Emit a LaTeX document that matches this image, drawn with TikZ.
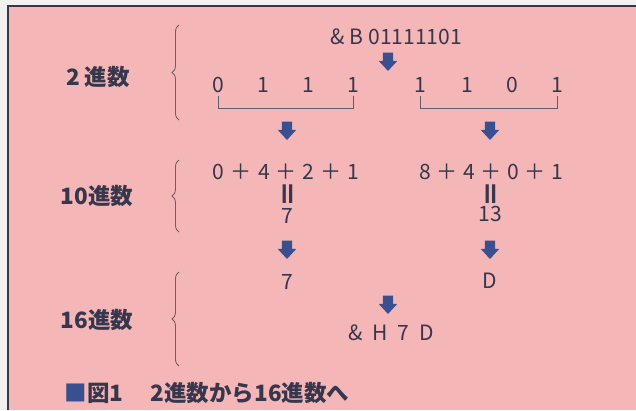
\documentclass[tikz,border=0pt]{standalone}
\usepackage{fontspec}
\setmainfont{Noto Sans CJK JP}
\usetikzlibrary{decorations.pathreplacing, calc}
\definecolor{paper}{HTML}{F3F1F0}
\definecolor{pinkbg}{HTML}{F5B6B8}
\definecolor{ink}{HTML}{36364C}
\definecolor{arrowblue}{HTML}{3A4F8F}
\definecolor{bracecol}{HTML}{6E5E60}

\tikzset{
  num/.style={font=\fontsize{15}{17}\selectfont, text=ink, inner sep=1pt},
  eqsign/.style={font=\fontsize{19}{20}\selectfont\bfseries, text=ink, inner sep=0pt, rotate=90},
  basislabel/.style={font=\fontsize{16}{19}\selectfont\bfseries, text=ink},
  basisbrace/.style={bracecol, line width=0.6pt, decorate, decoration={brace, amplitude=5pt}},
  bracket/.style={ink!80, line width=0.6pt},
  pics/blockarrow/.style={code={
    \fill[arrowblue] (-3.6pt,6.6pt) -- (3.6pt,6.6pt) -- (3.6pt,0.8pt) -- (6.6pt,0.8pt)
      -- (0,-6.4pt) -- (-6.6pt,0.8pt) -- (-3.6pt,0.8pt) -- cycle;}},
}

\begin{document}
\begin{tikzpicture}[x=0.025cm, y=-0.025cm]
  \useasboundingbox (0,0) rectangle (636,410);
  % 背景
  \fill[paper] (0,0) rectangle (636,410);
  \fill[pinkbg] (8,6) rectangle (636,410);
  \draw[ink, line width=1.2pt] (8,410) -- (8,6) -- (636,6);

  % 2進数
  \node[basislabel] (l2) at (98,77) {2 進数};
  \draw[basisbrace] (179,120) -- (179,25);
  \node[num, anchor=west] (bin) at (329,37) {\& B 01111101};
  \pic (a1) at (388,62) {blockarrow};
  \foreach \x/\d [count=\i] in {218/0,263/1,308/1,353/1,420/1,467/1,512/0,557/1}
    \node[num] (b\i) at (\x,85) {\d};
  \draw[bracket] ([yshift=-1pt]b1.south) -- (b1 |- 0,108) -- (b4 |- 0,108) -- ([yshift=-1pt]b4.south);
  \draw[bracket] ([yshift=-1pt]b5.south) -- (b5 |- 0,108) -- (b8 |- 0,108) -- ([yshift=-1pt]b8.south);
  \pic (a2) at (287,131) {blockarrow};
  \pic (a3) at (490,131) {blockarrow};

  % 10進数
  \node[basislabel] (l10) at (97,196) {10進数};
  \draw[basisbrace] (179,232) -- (179,160);
  \foreach \x/\t [count=\i] in {218/0,241/＋,264/4,286/＋,308/2,331/＋,353/1}
    \node[num] (s\i) at (\x,172) {\t};
  \foreach \x/\t [count=\i] in {425/8,447/＋,469/4,491/＋,513/0,535/＋,557/1}
    \node[num] (t\i) at (\x,172) {\t};
  \node[eqsign] (e1) at (291,194) {＝};
  \node[eqsign] (e2) at (494,194) {＝};
  \node[num] (v1) at (287,216) {7};
  \node[num] (v2) at (490,214) {13};
  \pic (a4) at (287,250) {blockarrow};
  \pic (a5) at (490,250) {blockarrow};

  % 16進数
  \node[basislabel] (l16) at (97,320) {16進数};
  \draw[basisbrace] (179,366) -- (179,272);
  \node[num] (h1) at (287,282) {7};
  \node[num] (h2) at (490,281) {D};
  \pic (a6) at (388,305) {blockarrow};
  \node[num] (hex) at (391,333) {\&\hspace{7pt}H\hspace{7pt}7\hspace{7pt}D};

  % 図の見出し
  \node[basislabel, anchor=west] (cap) at (60,393)
    {{\color{arrowblue}■}図1\hspace{1.2em}2進数から16進数へ};
\end{tikzpicture}
\end{document}
